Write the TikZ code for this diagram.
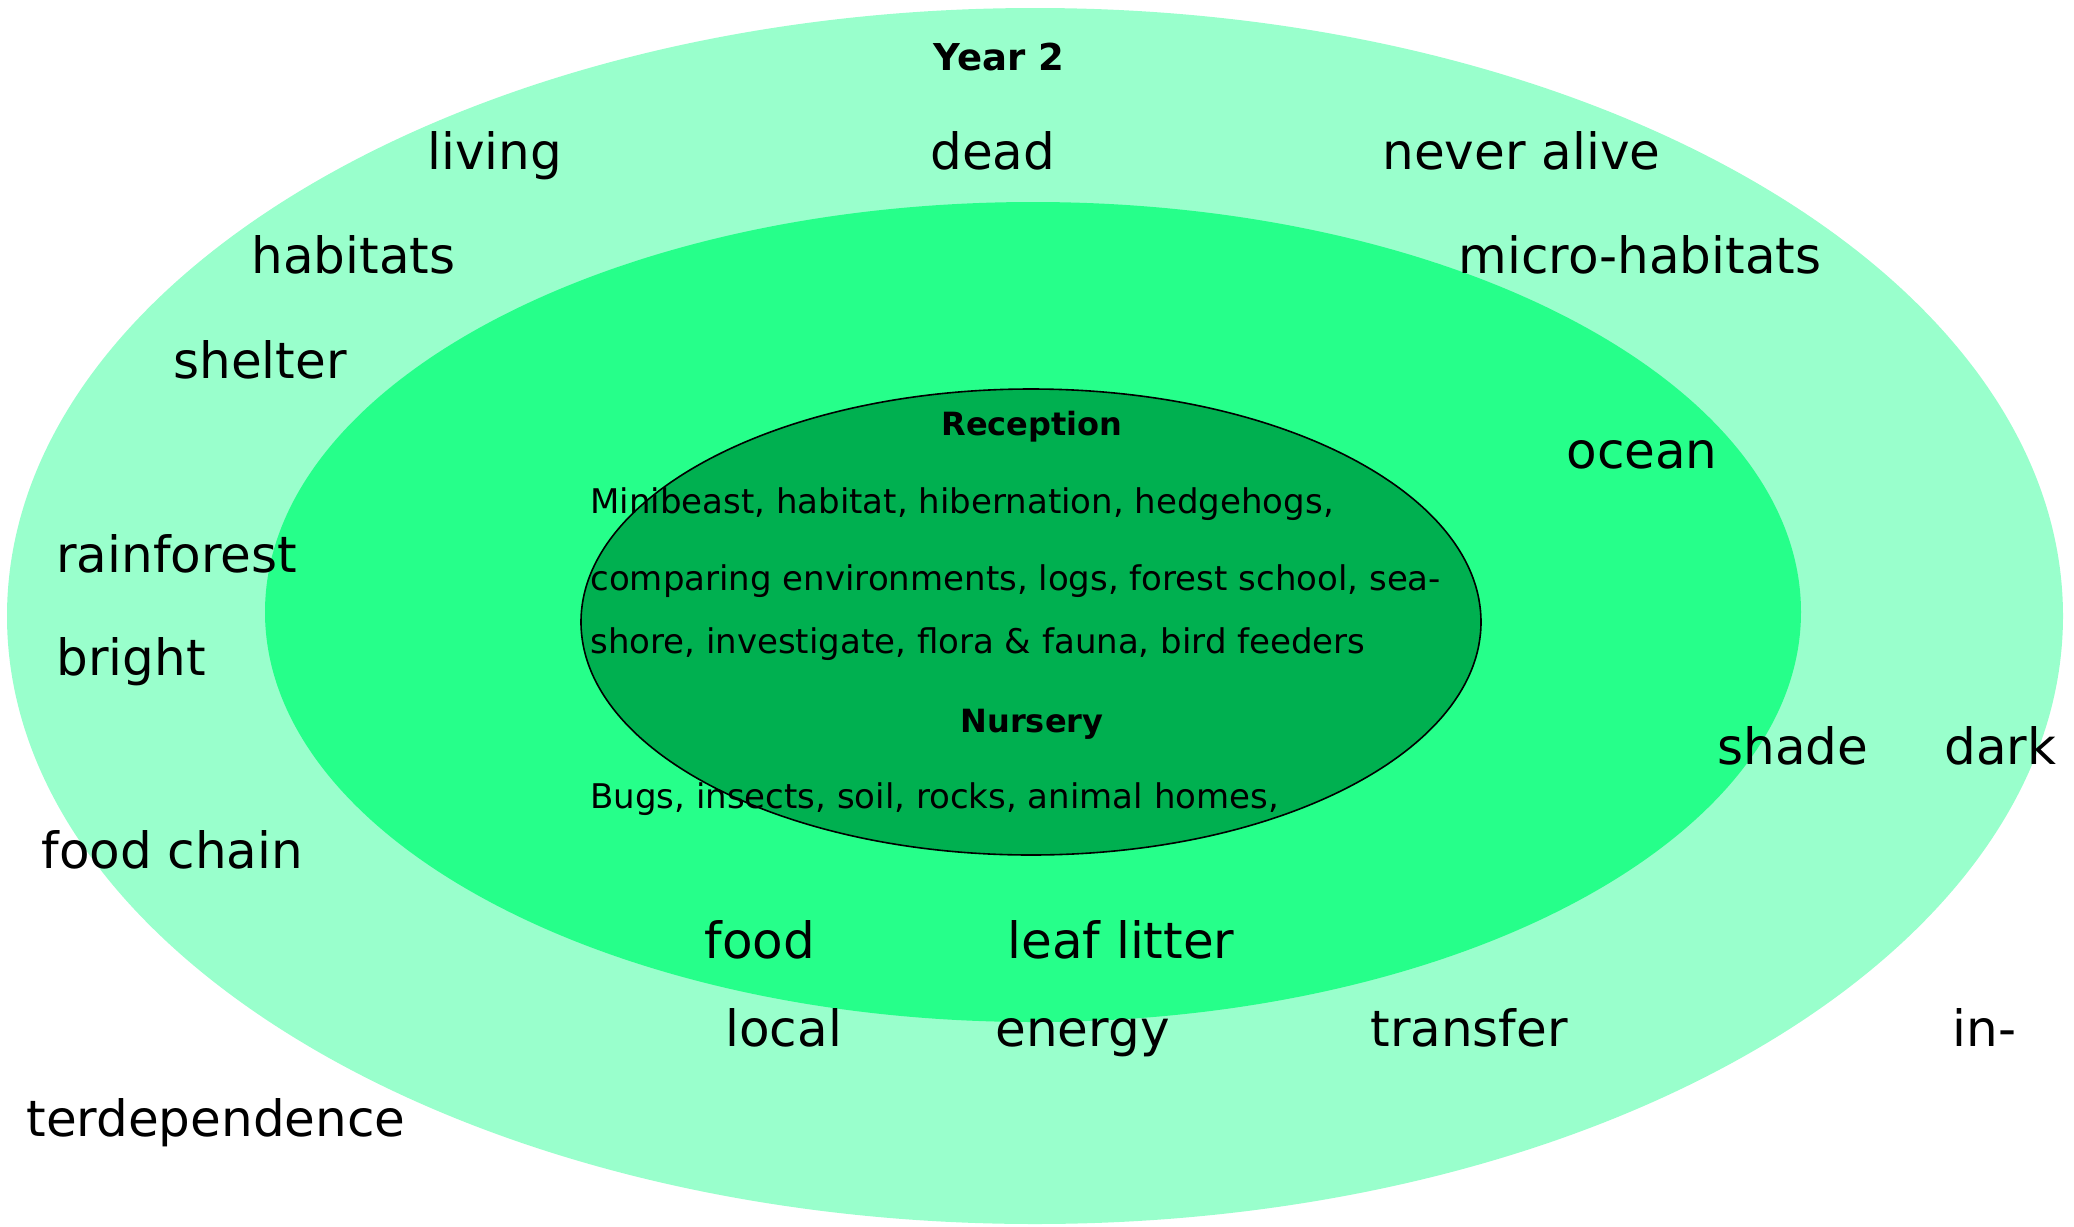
\documentclass[tikz,border=0pt]{standalone}
\usepackage{fontspec}
\setmainfont{DejaVu Sans}
\usepackage{tikz}
\definecolor{yeartwo}{RGB}{153,255,204}
\definecolor{yearone}{RGB}{38,255,138}
\definecolor{reception}{RGB}{0,176,80}
\tikzstyle{word} = [anchor=base west, inner sep=0pt, font=\fontsize{25}{29}\selectfont]
\tikzstyle{small} = [anchor=base west, inner sep=0pt, font=\fontsize{17}{20}\selectfont]
\tikzstyle{heading} = [anchor=base, inner sep=0pt, font=\bfseries\fontsize{16}{20}\selectfont]
\begin{document}
\begin{tikzpicture}[x=0.5pt, y=-0.5pt]
\useasboundingbox (0,0) rectangle (2074,1227);
% Rings
	\fill [yeartwo] (1035,616) ellipse [x radius=514pt, y radius=304pt];
	\fill [yearone] (1033,612) ellipse [x radius=384pt, y radius=205pt];
	\filldraw [fill=reception, draw=black, line width=0.8pt] (1031,622) ellipse [x radius=225pt, y radius=116.5pt];
% Year 2
	\node [heading, font=\bfseries\fontsize{18.5}{22}\selectfont] (year2) at (999,70) {Year 2};
	\node [word] (living) at (427,169) {living};
	\node [word] (dead) at (930,169) {dead};
	\node [word] (neveralive) at (1382,169) {never alive};
	\node [word] (habitats) at (251,273) {habitats};
	\node [word] (microhabitats) at (1458,273) {micro-habitats};
	\node [word] (shelter) at (173,378) {shelter};
	\node [word] (ocean) at (1566,468) {ocean};
	\node [word] (rainforest) at (56,572) {rainforest};
	\node [word] (bright) at (56,675) {bright};
	\node [word] (shade) at (1717,764) {shade};
	\node [word] (dark) at (1944,764) {dark};
	\node [word] (foodchain) at (41,868) {food chain};
	\node [word] (food) at (704,958) {food};
	\node [word] (leaflitter) at (1007,958) {leaf litter};
	\node [word] (local) at (725,1046) {local};
	\node [word] (energy) at (995,1046) {energy};
	\node [word] (transfer) at (1370,1046) {transfer};
	\node [word] (inter) at (1952,1046) {in-};
	\node [word] (terdependence) at (26,1136) {terdependence};
% Reception and Nursery
	\node [heading] (receptiontitle) at (1032,435) {Reception};
	\node [small] (recep1) at (590,513) {Minibeast, habitat, hibernation, hedgehogs,};
	\node [small] (recep2) at (590,590) {comparing environments, logs, forest school, sea-};
	\node [small] (recep3) at (590,653) {shore, investigate, flora \& fauna, bird feeders};
	\node [heading] (nurserytitle) at (1032,732) {Nursery};
	\node [small] (nursery1) at (590,808) {Bugs, insects, soil, rocks, animal homes,};
\end{tikzpicture}
\end{document}
